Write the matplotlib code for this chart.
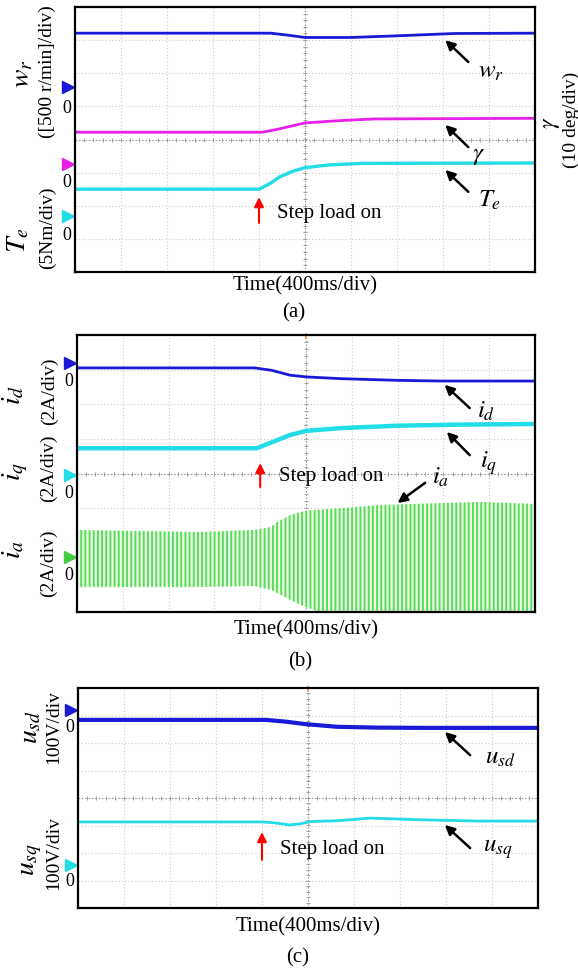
import matplotlib.pyplot as plt
import numpy as np
from matplotlib.transforms import blended_transform_factory

W, H = 578, 973

# time axis in seconds (400 ms/div, 10 div), values in screen divisions (-4..4)
# (a) speed, load angle, torque
T_WR = [0, 1.70, 1.85, 2.0, 2.4, 2.8, 3.3, 4.0]
WR = [3.21, 3.21, 3.15, 3.08, 3.08, 3.13, 3.20, 3.21]
T_GAMMA = [0, 1.63, 1.75, 1.9, 2.0, 2.3, 2.6, 4.0]
GAMMA = [0.22, 0.22, 0.30, 0.42, 0.50, 0.57, 0.62, 0.64]
T_TE = [0, 1.60, 1.70, 1.78, 1.9, 2.0, 2.2, 2.5, 4.0]
TE = [-1.50, -1.50, -1.32, -1.13, -0.95, -0.85, -0.77, -0.72, -0.71]

# (b) dq currents and phase current envelope
T_ID = [0, 1.55, 1.7, 1.86, 2.0, 2.3, 2.8, 3.2, 4.0]
ID = [3.05, 3.05, 2.98, 2.84, 2.79, 2.74, 2.69, 2.67, 2.67]
T_IQ = [0, 1.57, 1.7, 1.86, 2.0, 2.3, 2.8, 3.3, 4.0]
IQ = [0.73, 0.73, 0.90, 1.11, 1.23, 1.31, 1.38, 1.41, 1.43]
T_IA = [0, 1.07, 1.55, 1.69, 1.75, 1.86, 1.99, 2.12, 2.30, 2.65, 3.52, 4.0]
IA_HI = [-1.63, -1.69, -1.63, -1.55, -1.40, -1.20, -1.08, -1.04, -1.00, -0.91, -0.82, -0.88]
IA_LO = [-3.28, -3.28, -3.25, -3.36, -3.45, -3.65, -3.85, -4.0, -4.05, -4.1, -4.15, -4.1]

# (c) stator voltages
T_USD = [0, 1.63, 1.8, 1.97, 2.25, 2.6, 3.0, 4.0]
USD = [2.84, 2.84, 2.78, 2.69, 2.59, 2.56, 2.55, 2.55]
T_USQ = [0, 1.60, 1.70, 1.84, 1.93, 2.02, 2.28, 2.54, 2.97, 3.49, 4.0]
USQ = [-0.87, -0.87, -0.90, -0.98, -0.94, -0.86, -0.82, -0.73, -0.79, -0.84, -0.84]

# channel zero levels (divisions) and the "0" text under each marker
ZERO_A = [1.58, -0.74, -2.31]
ZERO_TXT_A = [0.95, -1.31, -2.91]
ZERO_B = [3.19, -0.04, -2.41]
ZERO_TXT_B = [2.67, -0.59, -2.96]
ZERO_C = [3.20, -2.44]
ZERO_TXT_C = [2.55, -3.05]

STEP_T = 1.6

BLUE = "#1a1ad6"
MAGENTA = "#e620e6"
CYAN = "#22dce6"
GREEN = "#55dd55"

plt.rcParams["font.family"] = ["Liberation Serif", "DejaVu Serif"]
plt.rcParams["mathtext.fontset"] = "stix"
plt.rcParams["hatch.linewidth"] = 1.35

fig = plt.figure(figsize=(W / 100, H / 100), dpi=100)


def fig_text(px, py, s, **kw):
    kw.setdefault("ha", "center")
    kw.setdefault("va", "center")
    fig.text(px / W, 1 - py / H, s, **kw)


def scope_panel(left, top, right, bottom, orange=True):
    ax = fig.add_axes([left / W, 1 - bottom / H, (right - left) / W, (bottom - top) / H])
    ax.set_xlim(0, 4)
    ax.set_ylim(-4, 4)
    ax.set_xticks([])
    ax.set_yticks([])
    for sp in ax.spines.values():
        sp.set_linewidth(1.6)
    for x in np.arange(0.4, 3.9, 0.4):
        if abs(x - 2.0) > 1e-6:
            ax.axvline(x, color="#cccccc", lw=0.8, ls=(0, (1, 2)), zorder=0)
    for y in range(-3, 4):
        if y != 0:
            ax.axhline(y, color="#cccccc", lw=0.8, ls=(0, (1, 2)), zorder=0)
    ax.axvline(2.0, color="#999999", lw=0.8, ls=(0, (1.5, 1.5)), zorder=0)
    ax.axhline(0.0, color="#999999", lw=0.8, ls=(0, (1.5, 1.5)), zorder=0)
    ys = np.arange(-4, 4.01, 0.2)
    ax.plot(np.full(len(ys), 2.0), ys, ls="none", marker="_", ms=3.5, mew=0.7, color="#a0a0a0", zorder=0)
    xs = np.arange(0, 4.01, 0.08)
    ax.plot(xs, np.zeros(len(xs)), ls="none", marker="|", ms=3.5, mew=0.7, color="#a0a0a0", zorder=0)
    if orange:
        ax.plot([2.0], [3.97], marker="|", ms=4, mew=1.2, color="#f0a030", clip_on=False)
    return ax


def zero_marks(ax, levels, txt_levels, colors):
    trans = blended_transform_factory(ax.transAxes, ax.transData)
    for y, yt, c in zip(levels, txt_levels, colors):
        ax.plot([-0.016], [y], marker=">", ms=9, color=c, transform=trans, clip_on=False)
        ax.text(-0.018, yt, "0", transform=trans, ha="center", va="center", fontsize=13)


def step_arrow(ax, y0, y1, ty):
    ax.annotate("", xy=(STEP_T, y1), xytext=(STEP_T, y0),
                arrowprops=dict(arrowstyle="-|>", color="red", lw=1.5, mutation_scale=14,
                                shrinkA=0, shrinkB=0))
    ax.text(STEP_T + 0.16, ty, "Step load on", fontsize=15, ha="left", va="center")


def pointer(ax, tip, tail, label_xy, label, fs=18):
    ax.annotate("", xy=tip, xytext=tail,
                arrowprops=dict(arrowstyle="-|>", color="black", lw=1.8, mutation_scale=14,
                                shrinkA=0, shrinkB=0))
    ax.text(label_xy[0], label_xy[1], label, fontsize=fs, ha="left", va="center")


# ---- (a) ----
ax = scope_panel(75, 7, 535, 272, orange=False)
ax.plot(T_WR, WR, color=BLUE, lw=2.0)
ax.plot(T_GAMMA, GAMMA, color=MAGENTA, lw=2.0)
ax.plot(T_TE, TE, color=CYAN, lw=2.4)
zero_marks(ax, ZERO_A, ZERO_TXT_A, [BLUE, MAGENTA, CYAN])
step_arrow(ax, -2.52, -1.74, -2.22)
pointer(ax, (3.22, 3.0), (3.42, 2.34), (3.50, 2.05), r"$w_r$")
pointer(ax, (3.22, 0.44), (3.42, -0.23), (3.45, -0.50), r"$\gamma$")
pointer(ax, (3.22, -0.92), (3.42, -1.58), (3.50, -1.85), r"$T_e$")
fig_text(23, 74, r"$w_r$", rotation=90, fontsize=20)
fig_text(47, 72, "([500 r/min]/div)", rotation=90, fontsize=14)
fig_text(19, 240, r"$T_e$", rotation=90, fontsize=20)
fig_text(47, 228, "(5Nm/div)", rotation=90, fontsize=14)
fig_text(552, 123, r"$\gamma$", rotation=90, fontsize=17)
fig_text(571, 120, "(10 deg/div)", rotation=90, fontsize=14)
fig_text(305, 286, "Time(400ms/div)", fontsize=15)
fig_text(294, 313, "(a)", fontsize=15)

# ---- (b) ----
ax = scope_panel(77, 335, 535, 612)
ax.fill_between(T_IA, IA_LO, IA_HI, facecolor="#eafbe6", edgecolor=GREEN, hatch="||||", lw=0)
ax.plot(T_ID, ID, color=BLUE, lw=2.0)
ax.plot(T_IQ, IQ, color=CYAN, lw=3.2)
zero_marks(ax, ZERO_B, ZERO_TXT_B, [BLUE, CYAN, "#44cc44"])
step_arrow(ax, -0.39, 0.30, -0.10)
pointer(ax, (3.21, 2.56), (3.43, 1.89), (3.49, 1.80), r"$i_d$")
pointer(ax, (3.23, 1.20), (3.43, 0.53), (3.52, 0.30), r"$i_q$")
pointer(ax, (2.80, -0.85), (3.04, -0.27), (3.10, -0.10), r"$i_a$")
fig_text(14, 395, r"$i_d$", rotation=90, fontsize=20)
fig_text(49, 391, "(2A/div)", rotation=90, fontsize=14)
fig_text(15, 471, r"$i_q$", rotation=90, fontsize=20)
fig_text(48, 468, "(2A/div)", rotation=90, fontsize=14)
fig_text(14, 550, r"$i_a$", rotation=90, fontsize=20)
fig_text(48, 563, "(2A/div)", rotation=90, fontsize=14)
fig_text(306, 630, "Time(400ms/div)", fontsize=15)
fig_text(300, 662, "(b)", fontsize=15)

# ---- (c) ----
ax = scope_panel(78, 688, 538, 908)
ax.plot(T_USD, USD, color=BLUE, lw=3.0)
ax.plot(T_USQ, USQ, color=CYAN, lw=2.0)
zero_marks(ax, ZERO_C, ZERO_TXT_C, [BLUE, CYAN])
step_arrow(ax, -2.25, -1.24, -1.89)
pointer(ax, (3.19, 2.40), (3.41, 1.56), (3.54, 1.45), r"$u_{sd}$")
pointer(ax, (3.19, -0.98), (3.41, -1.82), (3.52, -1.85), r"$u_{sq}$")
fig_text(31, 727, r"$u_{sd}$", rotation=90, fontsize=20)
fig_text(54, 727, "100V/div", rotation=90, fontsize=14)
fig_text(31, 860, r"$u_{sq}$", rotation=90, fontsize=20)
fig_text(54, 853, "100V/div", rotation=90, fontsize=14)
fig_text(308, 927, "Time(400ms/div)", fontsize=15)
fig_text(298, 958, "(c)", fontsize=15)

fig.savefig("out.png", dpi=100)
